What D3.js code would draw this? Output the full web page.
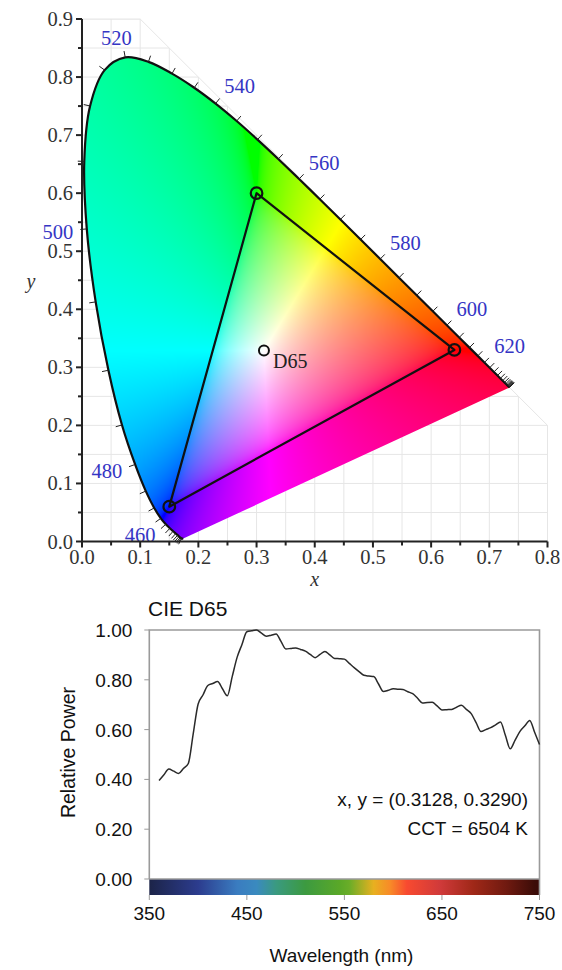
<!DOCTYPE html>
<html>
<head>
<meta charset="utf-8">
<script src="https://cdn.jsdelivr.net/npm/d3@7"></script>
<style>
  html, body { margin: 0; padding: 0; background: #fff; }
  svg { display: block; }
</style>
</head>
<body>
<script>
// CIE 1931 2° spectral locus, chromaticity (x, y) every 5 nm from 380 to 700 nm
const locusWavelengths = d3.range(380, 701, 5);
const locusX = [0.1741,0.1740,0.1738,0.1736,0.1733,0.1730,0.1726,0.1721,0.1714,0.1703,0.1689,0.1669,0.1644,0.1611,0.1566,0.1510,0.1440,0.1355,0.1241,0.1096,0.0913,0.0687,0.0454,0.0235,0.0082,0.0039,0.0139,0.0389,0.0743,0.1142,0.1547,0.1929,0.2296,0.2658,0.3016,0.3373,0.3731,0.4087,0.4441,0.4788,0.5125,0.5448,0.5752,0.6029,0.6270,0.6482,0.6658,0.6801,0.6915,0.7006,0.7079,0.7140,0.7190,0.7230,0.7260,0.7283,0.7300,0.7311,0.7320,0.7327,0.7334,0.7340,0.7344,0.7346,0.7347];
const locusY = [0.0050,0.0050,0.0049,0.0049,0.0048,0.0048,0.0048,0.0048,0.0051,0.0058,0.0069,0.0086,0.0109,0.0138,0.0177,0.0227,0.0297,0.0399,0.0578,0.0868,0.1327,0.2007,0.2950,0.4127,0.5384,0.6548,0.7502,0.8120,0.8338,0.8262,0.8059,0.7816,0.7543,0.7243,0.6923,0.6589,0.6245,0.5896,0.5547,0.5202,0.4866,0.4544,0.4242,0.3965,0.3725,0.3514,0.3340,0.3197,0.3083,0.2993,0.2920,0.2859,0.2809,0.2770,0.2740,0.2717,0.2700,0.2689,0.2680,0.2673,0.2666,0.2660,0.2656,0.2654,0.2653];
const tickWavelengths = d3.range(420, 701, 5);
const labelWavelengths = [460, 480, 500, 520, 540, 560, 580, 600, 620];

// sRGB primaries and D65 white point
const primaryNames = ["R", "G", "B"];
const primaryX = [0.64, 0.30, 0.15];
const primaryY = [0.33, 0.60, 0.06];
const whiteName = "D65";
const whiteX = 0.3127, whiteY = 0.3290;

// Chromaticity axes
const xTicks = [0, 0.1, 0.2, 0.3, 0.4, 0.5, 0.6, 0.7, 0.8];
const yTicks = [0, 0.1, 0.2, 0.3, 0.4, 0.5, 0.6, 0.7, 0.8, 0.9];

// CIE D65 relative spectral power, 360–750 nm every 5 nm (peak = 1)
const spdWavelengths = d3.range(360, 751, 5);
const spdPower = [0.396,0.419,0.442,0.433,0.424,0.444,0.464,0.583,0.702,0.739,0.777,0.785,0.793,0.764,0.736,0.813,0.890,0.942,0.993,0.997,1.000,0.987,0.975,0.979,0.984,0.954,0.924,0.926,0.928,0.922,0.915,0.902,0.889,0.902,0.914,0.900,0.886,0.885,0.883,0.866,0.849,0.833,0.818,0.815,0.813,0.783,0.753,0.758,0.764,0.762,0.761,0.752,0.744,0.726,0.707,0.709,0.710,0.695,0.679,0.680,0.681,0.690,0.698,0.681,0.664,0.628,0.592,0.600,0.608,0.619,0.631,0.577,0.523,0.558,0.593,0.615,0.637,0.589,0.540];
const spdXTicks = [350, 450, 550, 650, 750];
const spdYTicks = [0, 0.2, 0.4, 0.6, 0.8, 1.0];
const spectrumStopNm = [350, 400, 440, 460, 480, 510, 545, 555, 580, 597, 614, 648, 682, 716, 745, 750];
const spectrumStopColor = ["#1c2448","#2c3c8e","#3a7cc0","#3a8abf","#3a9a80","#3c9a40","#5aa828","#6aad28","#e8b020","#f88a28","#f84a30","#d03a3a","#a02818","#701a10","#3c0c08","#3a0a08"];
const annotationLines = ["x, y = (0.3128, 0.3290)", "CCT = 6504 K"];

const W = 562, H = 970;
const svg = d3.select("body").append("svg").attr("width", W).attr("height", H);
const defs = svg.append("defs");

/* ---------------- Chromaticity diagram ---------------- */
const serif = "'Liberation Serif', 'Times New Roman', serif";
const x = d3.scaleLinear().domain([0, 0.8]).range([82, 547.5]);
const y = d3.scaleLinear().domain([0, 0.9]).range([541.5, 19]);

// grid inside the region x + y <= 1
const gridRegion = [[0, 0], [0, 0.9], [0.1, 0.9], [0.8, 0.2], [0.8, 0]];
defs.append("clipPath").attr("id", "gridClip")
  .append("polygon").attr("points", gridRegion.map(p => [x(p[0]), y(p[1])].join(",")).join(" "));
const grid = svg.append("g").attr("clip-path", "url(#gridClip)")
  .attr("stroke", "#e6e6e6").attr("stroke-width", 1);
d3.range(0.05, 0.8001, 0.05).forEach(v => grid.append("line")
  .attr("x1", x(v)).attr("x2", x(v)).attr("y1", y(0)).attr("y2", y(0.9)));
d3.range(0.05, 0.9001, 0.05).forEach(v => grid.append("line")
  .attr("x1", x(0)).attr("x2", x(0.8)).attr("y1", y(v)).attr("y2", y(v)));
svg.append("polyline")
  .attr("points", [[0, 0.9], [0.1, 0.9], [0.8, 0.2], [0.8, 0]].map(p => [x(p[0]), y(p[1])].join(",")).join(" "))
  .attr("fill", "none").attr("stroke", "#e6e6e6").attr("stroke-width", 1);

// spectral locus path
const locusPts = locusWavelengths.map((w, i) => [x(locusX[i]), y(locusY[i])]);
const locusLine = d3.line().curve(d3.curveCatmullRom);
const locusD = locusLine(locusPts);
defs.append("clipPath").attr("id", "locusClip").append("path").attr("d", locusD + "Z");

// colour fill: xyY (Y = 1) -> linear sRGB, partly desaturated toward white,
// clipped, then scaled to full brightness
const whiteMix = 0.6;
const px0 = Math.floor(x(0)), py0 = Math.floor(y(0.9));
const cw = Math.ceil(x(0.8)) - px0, ch = Math.ceil(y(0)) - py0 + 1;
const canvas = document.createElement("canvas");
canvas.width = cw; canvas.height = ch;
const ctx = canvas.getContext("2d");
const img = ctx.createImageData(cw, ch);
const gamma = c => c <= 0.0031308 ? 12.92 * c : 1.055 * Math.pow(c, 1 / 2.4) - 0.055;
for (let j = 0; j < ch; j++) {
  const yv = y.invert(py0 + j + 0.5);
  for (let i = 0; i < cw; i++) {
    const xv = x.invert(px0 + i + 0.5);
    const k = (j * cw + i) * 4;
    if (yv <= 0.001) { img.data[k + 3] = 0; continue; }
    const X = xv / yv, Y = 1, Z = (1 - xv - yv) / yv;
    let r = 3.2406 * X - 1.5372 * Y - 0.4986 * Z;
    let g = -0.9689 * X + 1.8758 * Y + 0.0415 * Z;
    let b = 0.0557 * X - 0.2040 * Y + 1.0570 * Z;
    const lo = Math.min(r, g, b);
    if (lo < 0) { r -= lo * whiteMix; g -= lo * whiteMix; b -= lo * whiteMix; }
    r = Math.max(0, r); g = Math.max(0, g); b = Math.max(0, b);
    const m = Math.max(r, g, b) || 1;
    img.data[k] = Math.round(255 * gamma(r / m));
    img.data[k + 1] = Math.round(255 * gamma(g / m));
    img.data[k + 2] = Math.round(255 * gamma(b / m));
    img.data[k + 3] = 255;
  }
}
ctx.putImageData(img, 0, 0);
svg.append("image")
  .attr("x", px0).attr("y", py0).attr("width", cw).attr("height", ch)
  .attr("preserveAspectRatio", "none")
  .attr("href", canvas.toDataURL("image/png"))
  .attr("clip-path", "url(#locusClip)");

svg.append("path").attr("d", locusD).attr("fill", "none")
  .attr("stroke", "#111").attr("stroke-width", 2.2).attr("stroke-linejoin", "round");

// wavelength ticks perpendicular to the locus, pointing outward
const W0 = [x(whiteX), y(whiteY)];
function locusNormal(w) {
  const i = locusWavelengths.indexOf(w);
  const a = locusPts[Math.max(0, i - 1)], b = locusPts[Math.min(locusPts.length - 1, i + 1)];
  let tx = b[0] - a[0], ty = b[1] - a[1];
  const len = Math.hypot(tx, ty) || 1;
  tx /= len; ty /= len;
  let nx = ty, ny = -tx;
  const p = locusPts[i];
  if (nx * (p[0] - W0[0]) + ny * (p[1] - W0[1]) < 0) { nx = -nx; ny = -ny; }
  return [p, nx, ny];
}
const tickLen = 6.5;
const tickG = svg.append("g").attr("stroke", "#222").attr("stroke-width", 1);
tickWavelengths.forEach(w => {
  const [p, nx, ny] = locusNormal(w);
  tickG.append("line").attr("x1", p[0]).attr("y1", p[1])
    .attr("x2", p[0] + nx * tickLen).attr("y2", p[1] + ny * tickLen);
});
// labels sit just beyond the tick, pushed out by half their box along the normal
const wlLabels = svg.append("g").attr("fill", "#3535c4")
  .attr("font-family", serif).attr("font-size", 20.5).attr("text-anchor", "middle");
const clamp1 = v => Math.max(-1, Math.min(1, v));
labelWavelengths.forEach(w => {
  const [p, nx, ny] = locusNormal(w);
  const cx = p[0] + nx * 13 + clamp1(nx * 2.2) * 16;
  const cy = ny < 0 ? p[1] + ny * 13 + clamp1(ny * 2.2) * 7 : p[1] + ny * 13 + 2;
  wlLabels.append("text").attr("x", cx).attr("y", cy + 7).text(w);
});

// sRGB gamut triangle
const prim = primaryNames.map((n, i) => [x(primaryX[i]), y(primaryY[i])]);
svg.append("polygon").attr("points", prim.map(p => p.join(",")).join(" "))
  .attr("fill", "none").attr("stroke", "#111").attr("stroke-width", 2.2).attr("stroke-linejoin", "round");
svg.append("g").selectAll("circle").data(prim).join("circle")
  .attr("cx", d => d[0]).attr("cy", d => d[1]).attr("r", 5.8)
  .attr("fill", "none").attr("stroke", "#111").attr("stroke-width", 2.2);

// white point
svg.append("circle").attr("cx", x(whiteX)).attr("cy", y(whiteY)).attr("r", 5)
  .attr("fill", "none").attr("stroke", "#111").attr("stroke-width", 2);
svg.append("text").attr("x", x(whiteX) + 9).attr("y", y(whiteY) + 18)
  .attr("font-family", serif).attr("font-size", 20).attr("fill", "#222").text(whiteName);

// axes
const axisG = svg.append("g").attr("stroke", "#222");
axisG.append("line").attr("x1", x(0)).attr("x2", x(0)).attr("y1", y(0) + 1).attr("y2", y(0.9))
  .attr("stroke-width", 2);
axisG.append("line").attr("x1", x(0) - 1).attr("x2", x(0.8)).attr("y1", y(0)).attr("y2", y(0))
  .attr("stroke-width", 2);
d3.range(0, 0.9001, 0.05).forEach((v, i) => axisG.append("line")
  .attr("x1", x(0) - (i % 2 ? 4 : 6)).attr("x2", x(0)).attr("y1", y(v)).attr("y2", y(v))
  .attr("stroke-width", 2));
d3.range(0, 0.8001, 0.05).forEach((v, i) => axisG.append("line")
  .attr("x1", x(v)).attr("x2", x(v)).attr("y1", y(0)).attr("y2", y(0) + (i % 2 ? 4 : 6))
  .attr("stroke-width", 2));
const tl = svg.append("g").attr("font-family", serif).attr("font-size", 20.5).attr("fill", "#333");
yTicks.forEach(v => tl.append("text").attr("x", x(0) - 9).attr("y", y(v) + 7)
  .attr("text-anchor", "end").text(v.toFixed(1)));
xTicks.forEach(v => tl.append("text").attr("x", x(v)).attr("y", y(0) + 22)
  .attr("text-anchor", "middle").text(v.toFixed(1)));
svg.append("text").attr("x", x(0.4)).attr("y", 586).attr("text-anchor", "middle")
  .attr("font-family", serif).attr("font-style", "italic").attr("font-size", 20).attr("fill", "#333").text("x");
svg.append("text").attr("x", 31).attr("y", 288).attr("text-anchor", "middle")
  .attr("font-family", serif).attr("font-style", "italic").attr("font-size", 20).attr("fill", "#333").text("y");

/* ---------------- D65 spectrum ---------------- */
const sans = "'Liberation Sans', Arial, sans-serif";
const xs = d3.scaleLinear().domain([350, 750]).range([149.3, 539.5]);
const ys = d3.scaleLinear().domain([0, 1]).range([879, 630]);
const barH = 16;

const grad = defs.append("linearGradient").attr("id", "spectrumGrad")
  .attr("gradientUnits", "userSpaceOnUse").attr("x1", xs(350)).attr("x2", xs(750)).attr("y1", 0).attr("y2", 0);
spectrumStopNm.forEach((nm, i) => grad.append("stop")
  .attr("offset", (nm - 350) / 400).attr("stop-color", spectrumStopColor[i]));
svg.append("rect").attr("x", xs(350)).attr("y", ys(0)).attr("width", xs(750) - xs(350)).attr("height", barH)
  .attr("fill", "url(#spectrumGrad)");

const frame = svg.append("g").attr("stroke", "#9a9a9a").attr("stroke-width", 1.6).attr("fill", "none");
frame.append("polyline").attr("points",
  [[xs(350), ys(0)], [xs(350), ys(1)], [xs(750), ys(1)], [xs(750), ys(0) + barH]].map(p => p.join(",")).join(" "));
frame.append("line").attr("x1", xs(350)).attr("x2", xs(750)).attr("y1", ys(0)).attr("y2", ys(0));
spdYTicks.forEach(v => frame.append("line").attr("x1", xs(350) - 5).attr("x2", xs(350))
  .attr("y1", ys(v)).attr("y2", ys(v)).attr("stroke-width", 1));
spdXTicks.forEach(v => frame.append("line").attr("x1", xs(v)).attr("x2", xs(v))
  .attr("y1", ys(0) + barH).attr("y2", ys(0) + barH + 5).attr("stroke-width", 1));

const lab = svg.append("g").attr("font-family", sans).attr("fill", "#111");
spdYTicks.forEach(v => lab.append("text").attr("x", xs(350) - 17).attr("y", ys(v) + 7)
  .attr("text-anchor", "end").attr("font-size", 19).text(v.toFixed(2)));
spdXTicks.forEach(v => lab.append("text").attr("x", xs(v)).attr("y", ys(0) + barH + 25)
  .attr("text-anchor", "middle").attr("font-size", 19).text(v));

svg.append("path")
  .attr("d", d3.line().curve(d3.curveMonotoneX).x((d, i) => xs(spdWavelengths[i])).y(d => ys(d))(spdPower))
  .attr("fill", "none").attr("stroke", "#2a2a2a").attr("stroke-width", 1.5).attr("stroke-linejoin", "round");

lab.append("text").attr("x", 148).attr("y", 616).attr("font-size", 21).text("CIE D65");
lab.append("text").attr("transform", "translate(75," + ((ys(0) + ys(1)) / 2 - 2) + ") rotate(-90)")
  .attr("text-anchor", "middle").attr("font-size", 19.5).text("Relative Power");
lab.append("text").attr("x", (xs(350) + xs(750)) / 2 - 3).attr("y", 962)
  .attr("text-anchor", "middle").attr("font-size", 19).text("Wavelength (nm)");
annotationLines.forEach((t, i) => lab.append("text").attr("x", 528).attr("y", 806 + i * 29)
  .attr("text-anchor", "end").attr("font-size", 19).text(t));
</script>
</body>
</html>
